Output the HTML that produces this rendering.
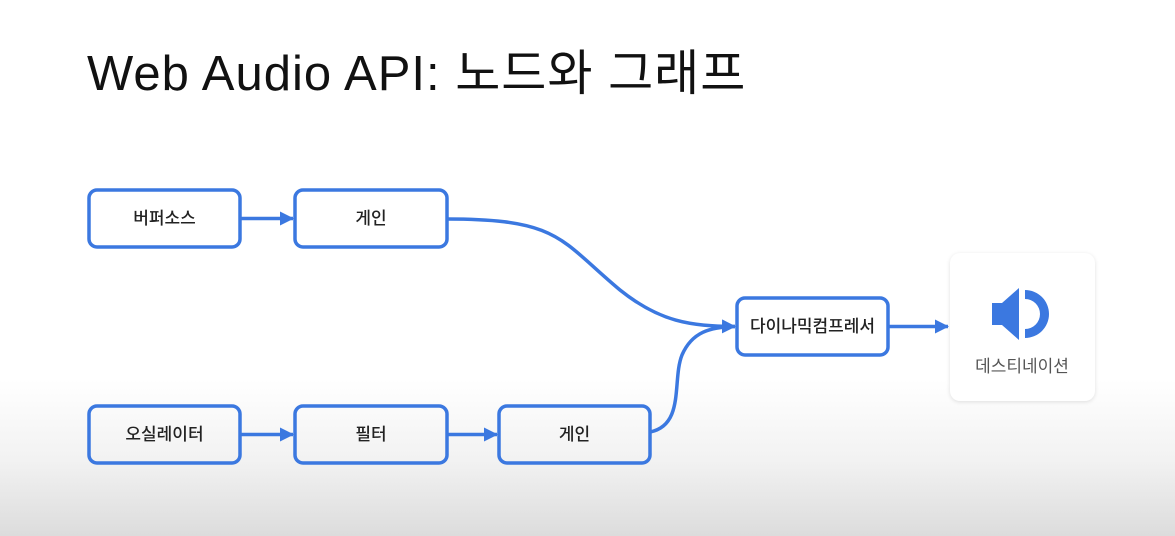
<!DOCTYPE html>
<html><head><meta charset="utf-8"><style>
html,body{margin:0;padding:0}
body{width:1175px;height:536px;overflow:hidden;background:linear-gradient(to bottom,#fff 0,#fff 380px,#f2f2f2 460px,#dcdcdc 536px);font-family:"Liberation Sans","Noto Sans CJK KR",sans-serif;position:relative}
h1{position:absolute;left:87px;top:43px;margin:0;font-weight:400;font-size:49px;color:#111;letter-spacing:1px;line-height:62px;white-space:nowrap}
.card{position:absolute;left:950px;top:253px;width:145px;height:148px;background:#fff;border-radius:10px;box-shadow:0 1px 4px rgba(0,0,0,0.12)}
svg{position:absolute;left:0;top:0}
</style></head><body>
<h1>Web Audio API: 노드와 그래프</h1>
<div class="card"></div>
<svg width="1175" height="536" viewBox="0 0 1175 536">
<defs>
<marker id="b" markerWidth="14" markerHeight="14" refX="13" refY="7" orient="auto" markerUnits="userSpaceOnUse" viewBox="0 0 14 14"><path d="M0,0 L14,7 L0,14z" fill="#3b78e0"/></marker></defs>
<g fill="none" stroke="#3b78e0" stroke-width="3.5">
<rect x="89" y="190" width="151" height="57" rx="8"/>
<rect x="295" y="190" width="152" height="57" rx="8"/>
<rect x="89" y="406" width="151" height="57" rx="8"/>
<rect x="295" y="406" width="152" height="57" rx="8"/>
<rect x="499" y="406" width="151" height="57" rx="8"/>
<rect x="737" y="298" width="151" height="57" rx="8"/>
</g>
<g fill="none" stroke="#3b78e0" stroke-width="3.5">
<path d="M240,218.5 H293" marker-end="url(#b)"/>
<path d="M240,434.5 H293" marker-end="url(#b)"/>
<path d="M447,434.5 H497" marker-end="url(#b)"/>
<path d="M888,326.5 H948" marker-end="url(#b)"/>
<path d="M447,219 C560,219 560,240 620,290 C660,322 690,326 735,326.5" marker-end="url(#b)"/>
<path d="M650,432 C685,425 672,380 682,355 C692,332 710,327 735,326.5"/>
</g>
<g fill="#3b78e0">
<rect x="992" y="303" width="12" height="22"/>
<path d="M1002,303 L1019,288 L1019,340 L1002,325z"/>
<path d="M1025,290 A24,24 0 0 1 1025,338 L1025,329 A15,15 0 0 0 1025,299z"/>
</g>
<g font-family="'Liberation Sans','Noto Sans CJK KR',sans-serif" font-size="17" font-weight="500" fill="#222" text-anchor="middle">
<text x="164.5" y="224">버퍼소스</text>
<text x="371" y="224">게인</text>
<text x="164.5" y="440">오실레이터</text>
<text x="371" y="440">필터</text>
<text x="574.5" y="440">게인</text>
<text x="812.5" y="332">다이나믹컴프레서</text>
<text x="1022" y="372" fill="#555" font-weight="400">데스티네이션</text>
</g>
</svg>
</body></html>
